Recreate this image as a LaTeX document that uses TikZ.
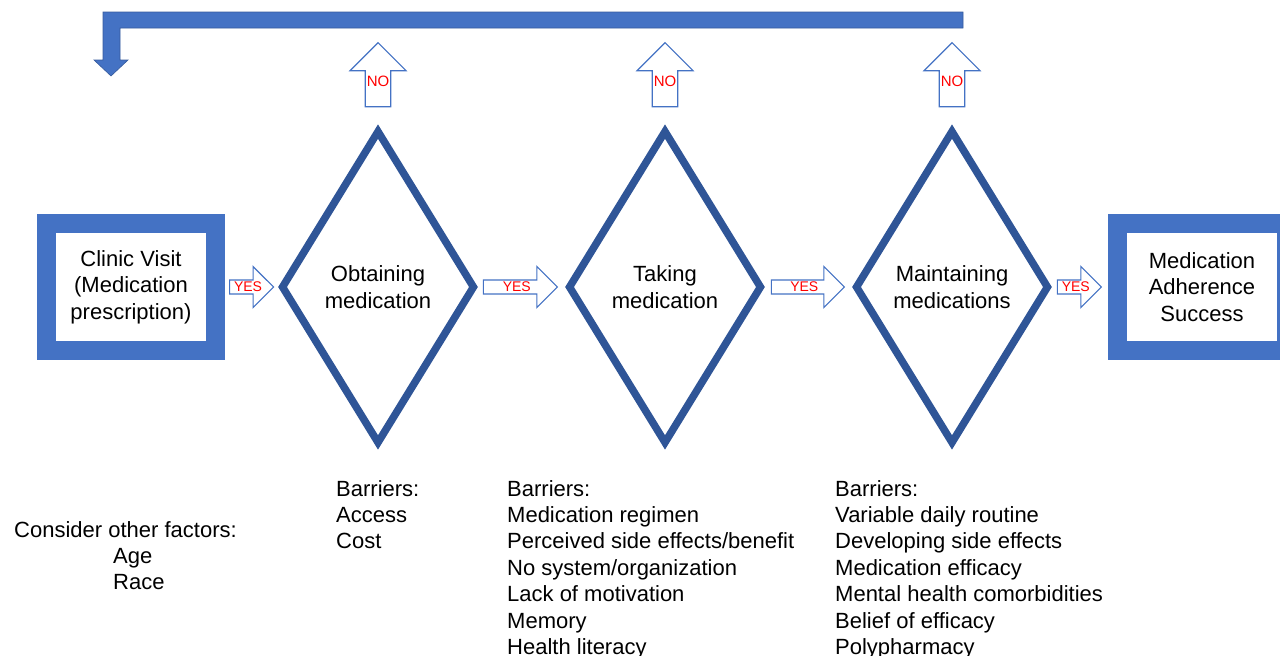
\documentclass[tikz,border=0pt]{standalone}
\usepackage{fontspec}
\setmainfont{Liberation Sans}
\usetikzlibrary{shapes.geometric,shapes.arrows,positioning}
\definecolor{boxblue}{HTML}{4472C4}
\definecolor{diamondblue}{HTML}{2F5597}

\begin{document}
\begin{tikzpicture}[x=1pt,y=-1pt,
  every node/.style={font=\fontsize{22}{26.4}\selectfont},
  box/.style={draw=boxblue,line width=19pt,fill=white,minimum width=169pt,minimum height=127pt,inner sep=0pt,align=center},
  decision/.style={diamond,draw=diamondblue,line width=7.5pt,minimum width=194pt,minimum height=314pt,inner sep=0pt,align=center},
  yesarrow/.style={single arrow,draw=boxblue,line width=1.2pt,fill=white,minimum width=41pt,single arrow head extend=10.5pt,inner sep=0pt,text=red,font=\fontsize{14}{14}\selectfont},
  noarrow/.style={single arrow,shape border rotate=90,draw=boxblue,line width=1.2pt,fill=white,minimum width=56pt,single arrow head extend=14pt,minimum height=64pt,inner sep=0pt,text=red,font=\fontsize{15}{15}\selectfont},
  barriers/.style={anchor=north west,inner sep=0pt,align=left}]
  \useasboundingbox (0,0) rectangle (1280,656);
  % loop back arrow
  \fill[boxblue,draw=boxblue!80!black,line width=0.6pt] (103,12) -- (963,12) -- (963,28) -- (120,28) -- (120,60) -- (128,60) -- (111,76) -- (94,60) -- (103,60) -- cycle;
  \path
  node[decision] (obtain) at (378,287) {Obtaining\\medication}
  node[decision,on grid,right=287pt of obtain] (taking) {Taking\\medication}
  node[decision,on grid,right=287pt of taking] (maintain) {Maintaining\\medications}
  node[box,on grid,left=247pt of obtain] (clinic) {Clinic Visit\\(Medication\\prescription)}
  node[box,on grid,right=250pt of maintain] (success) {Medication\\Adherence\\Success}
  ;
  \path
  node[yesarrow,minimum height=44pt,right=4pt of clinic] (yes1) {YES}
  node[yesarrow,minimum height=74pt,right=4pt of obtain] (yes2) {YES}
  node[yesarrow,minimum height=73pt,right=5pt of taking] (yes3) {YES}
  node[yesarrow,minimum height=44pt,right=4pt of maintain] (yes4) {YES}
  node[noarrow,above=19pt of obtain,anchor=tail] (no1) {\raisebox{-3pt}{NO}}
  node[noarrow,above=19pt of taking,anchor=tail] (no2) {\raisebox{-3pt}{NO}}
  node[noarrow,above=19pt of maintain,anchor=tail] (no3) {\raisebox{-3pt}{NO}}
  ;
  \path
  node[barriers] (factors) at (14,521) {Consider other factors:\\\hspace*{99pt}Age\\\hspace*{99pt}Race}
  node[barriers] (obtainbar) at (336,480) {Barriers:\\Access\\Cost}
  node[barriers] (takingbar) at (507,480) {Barriers:\\Medication regimen\\Perceived side effects/benefit\\No system/organization\\Lack of motivation\\Memory\\Health literacy}
  node[barriers] (maintainbar) at (835,480) {Barriers:\\Variable daily routine\\Developing side effects\\Medication efficacy\\Mental health comorbidities\\Belief of efficacy\\Polypharmacy}
  ;
\end{tikzpicture}
\end{document}
